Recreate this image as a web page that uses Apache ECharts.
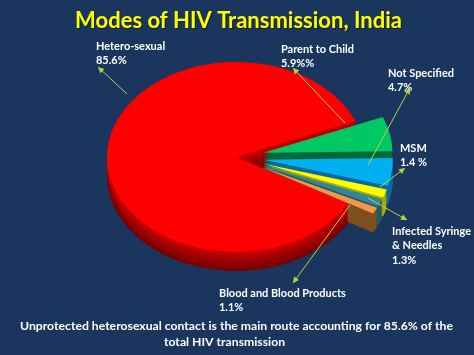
<!DOCTYPE html>
<html><head><meta charset="utf-8">
<script src="https://cdn.jsdelivr.net/npm/echarts@6/dist/echarts.min.js"></script>
<style>
html,body{margin:0;padding:0;background:#1b365e;overflow:hidden;width:474px;height:355px}
#wrap{position:relative;width:474px;height:355px}
#pie{position:absolute;left:0;top:0;width:474px;height:483px;transform:scaleY(0.7364);transform-origin:0 0}
#ov{position:absolute;left:0;top:0;width:474px;height:355px}
</style></head>
<body><div id="wrap"><div id="pie"></div><div id="ov"></div></div>
<script>
// ---- data ----
const categories = ['Hetero-sexual', 'Parent to Child', 'Not Specified', 'MSM', 'Infected Syringe & Needles', 'Blood and Blood Products'];
const values = [85.6, 5.9, 4.7, 1.4, 1.3, 1.1];
const valueLabels = ['85.6%', '5.9%%', '4.7%', '1.4 %', '1.3%', '1.1%'];
const chartTitle = 'Modes of HIV Transmission, India';
const footnote = ['Unprotected heterosexual contact is the main route accounting for 85.6% of the', 'total HIV transmission'];

// ---- styles / layout ----
const topColors = ['#ff0000', '#00c864', '#00b0f0', '#ffff00', '#31859c', '#f79646'];
const sideColors = [null, '#00693a', '#0a6aa0', '#a8a800', '#1f5a6a', '#7f4f1c'];
const SCALE = 0.7364;
const CX = 236, CY = 157 / SCALE, R = 129, DEPTH = 19 / SCALE, LAYERS = 12;
const labelPos = [[96, 46], [281, 49], [388, 73], [400, 148], [392, 231], [219, 293]];
const arrowPos = [[127, 94, 98, 67], [345, 123, 293, 68], [368, 165, 410, 88], [380, 187, 405, 168], [368, 198, 407, 220], [350, 205, 293, 283]];
const LINE_H = 14.5;
const FONT = 'Lato, "Open Sans", sans-serif';
const ARROW_COLOR = '#b9d343';

function mix(a, b, t) {
  const pa = [1, 3, 5].map(i => parseInt(a.substr(i, 2), 16));
  const pb = [1, 3, 5].map(i => parseInt(b.substr(i, 2), 16));
  return 'rgb(' + pa.map((v, i) => Math.round(v + (pb[i] - v) * t)).join(',') + ')';
}
function fitSize(text, target) {
  const c = document.createElement('canvas').getContext('2d');
  c.font = 'bold 100px ' + FONT;
  return 100 * target / c.measureText(text).width;
}

function makePie(off, colors, z) {
  return {
    type: 'pie', z: z, silent: true, animation: false,
    center: [CX, CY + off], radius: R,
    startAngle: 330.4, clockwise: true,
    selectedMode: 'multiple', selectedOffset: 28,
    label: { show: false }, labelLine: { show: false },
    emphasis: { disabled: true },
    itemStyle: { borderWidth: 0 },
    data: values.map((v, i) => ({
      value: v, name: categories[i], selected: i > 0,
      itemStyle: { color: colors[i] },
      select: { itemStyle: { color: colors[i], borderWidth: 0 } }
    }))
  };
}

const pieSeries = [];
for (let k = 0; k < LAYERS; k++) {
  const off = DEPTH * (LAYERS - k) / LAYERS;
  const cols = sideColors.slice();
  cols[0] = mix('#760000', '#c40000', k / (LAYERS - 1));
  pieSeries.push(makePie(off, cols, 1 + k));
}
pieSeries.push(makePie(0, topColors, 1 + LAYERS));

const pie = echarts.init(document.getElementById('pie'), null, { renderer: 'svg' });
pie.setOption({ animation: false, backgroundColor: 'transparent', series: pieSeries });

// ---- overlay text ----
const titleSize = fitSize(chartTitle, 327);
const labelSize = fitSize('Blood and Blood Products', 127);
const footSize = fitSize(footnote[0], 433);

const g = [];
g.push({ type: 'text', x: 238.5, y: 20.5, style: { text: chartTitle, fill: '#ffff00', font: 'bold ' + titleSize.toFixed(2) + 'px ' + FONT, align: 'center', verticalAlign: 'middle', textShadowColor: 'rgba(0,0,0,0.45)', textShadowOffsetX: 1, textShadowOffsetY: 1, textShadowBlur: 1 } });
categories.forEach((name, i) => {
  const lines = name.replace(' & ', '\n& ').split('\n').concat([valueLabels[i]]);
  lines.forEach((ln, j) => {
    g.push({ type: 'text', x: labelPos[i][0], y: labelPos[i][1] + j * LINE_H, style: { text: ln, fill: '#ffffff', font: 'bold ' + labelSize.toFixed(2) + 'px ' + FONT, align: 'left', verticalAlign: 'middle' } });
  });
  const [x1, y1, x2, y2] = arrowPos[i];
  g.push({ type: 'line', shape: { x1, y1, x2, y2 }, style: { stroke: ARROW_COLOR, lineWidth: 1 } });
  const ang = Math.atan2(y2 - y1, x2 - x1), L = 6, W = 3;
  const bx = x2 - L * Math.cos(ang), by = y2 - L * Math.sin(ang);
  g.push({ type: 'polygon', shape: { points: [[x2, y2], [bx + W * Math.sin(ang), by - W * Math.cos(ang)], [bx - W * Math.sin(ang), by + W * Math.cos(ang)]] }, style: { fill: ARROW_COLOR } });
});
g.push({ type: 'text', x: 236.5, y: 326.5, style: { text: footnote[0], fill: '#ffffff', font: 'bold ' + footSize.toFixed(2) + 'px ' + FONT, align: 'center', verticalAlign: 'middle' } });
g.push({ type: 'text', x: 224.5, y: 342, style: { text: footnote[1], fill: '#ffffff', font: 'bold ' + footSize.toFixed(2) + 'px ' + FONT, align: 'center', verticalAlign: 'middle' } });

const ov = echarts.init(document.getElementById('ov'));
ov.setOption({ animation: false, backgroundColor: 'transparent', graphic: { elements: g } });
</script></body></html>
